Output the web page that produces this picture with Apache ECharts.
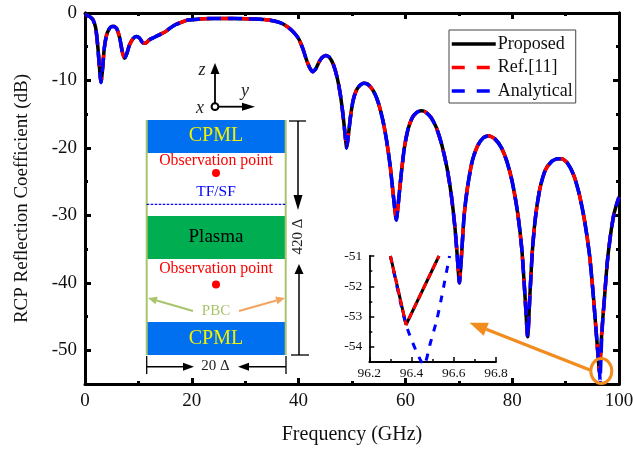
<!DOCTYPE html>
<html><head><meta charset="utf-8">
<style>html,body{margin:0;padding:0;background:#fff}#c{width:633px;height:451px}</style>
<script src="https://cdn.jsdelivr.net/npm/echarts@6/dist/echarts.min.js"></script>
</head><body><div id="c"></div>
<script>
const freq=[0,0.5,1,1.5,2,2.4,2.7,3,3.3,3.6,4,4.5,5,5.5,6,6.5,7,7.4,7.8,8.3,9,9.6,10.2,10.8,11.3,12,13,14,15,16,17,18,19,20,22,24,26,28,30,32,34,36,37,38,39,40,40.8,41.5,42,42.6,43.2,43.8,44.4,45.1,45.8,46.5,47.2,47.8,48.3,48.7,49,49.3,49.7,50.2,50.8,51.5,52.2,52.8,53.5,54.3,55,55.8,56.5,57.2,57.8,58.3,58.7,59.2,59.8,60.5,61.3,62.2,63,63.8,64.8,65.8,66.8,67.8,68.6,69.3,69.8,70.1,70.5,71,71.6,72.5,73.5,74.6,75.6,76.8,78,79,80,81,81.8,82.4,82.9,83.3,83.8,84.4,85.2,86.2,87.4,88.5,89.3,90.3,91.5,92.6,93.6,94.5,95.2,95.9,96.37,96.46,96.53,96.8,97.3,97.8,98.4,99,99.5,100];
const proposed=[-0.2,-0.4,-0.6,-1.0,-2.2,-5,-8,-10.3,-8.2,-5.3,-3.4,-2.4,-2.0,-2.0,-2.4,-3.7,-5.8,-6.7,-6.1,-4.8,-3.8,-3.5,-3.7,-4.4,-4.5,-4.0,-3.6,-3.2,-2.8,-2.2,-1.7,-1.4,-1.1,-1.0,-0.85,-0.8,-0.8,-0.8,-0.85,-0.9,-1.0,-1.3,-1.6,-2.1,-2.8,-3.8,-5.3,-7,-8,-8.7,-8.3,-7.3,-6.6,-6.3,-6.6,-7.6,-9.5,-12,-15,-18,-20,-18.3,-15.5,-13,-11.5,-10.7,-10.4,-10.5,-11,-12,-13.5,-16,-19,-23,-27.5,-30.7,-28,-24,-20,-17.2,-15.5,-14.7,-14.5,-14.7,-15.5,-17,-19.5,-23,-27,-32,-37,-40,-36,-30,-26,-22,-19.7,-18.5,-18.2,-18.7,-20,-22,-25,-29.5,-35,-42,-48,-42,-35,-30,-26,-23.3,-22,-21.6,-21.6,-22.2,-24,-27,-31,-36,-42,-49,-53.3,-52.2,-51,-47,-42,-37,-33,-30,-28.5,-27.3];
const reference=proposed.slice();
const analyticalDipStart=freq.indexOf(96.46);
const analyticalDip=[-54.6,-53.3,-47.5];
const analytical=proposed.slice(0,analyticalDipStart).concat(analyticalDip,proposed.slice(analyticalDipStart+3));
const xTicks=[0,20,40,60,80,100];
const yMajorTicks=[-50,-40,-30,-20,-10,0];
const insetFreq=[96.3,96.374,96.53];
const insetProposed=[-51,-53.27,-51];
const insetReference=[-51,-53.27,-51];
const insetAnalyticalFreq=[96.3,96.374,96.46,96.487,96.52,96.543,96.58];
const insetAnalytical=[-51,-53.27,-54.6,-53.93,-53.1,-52.34,-51];
const insetYTicks=[-54,-53,-52,-51];

const pair=(a,b)=>a.map((v,i)=>[v,b[i]]);
const FONT='Liberation Serif';
const BLUE='#0000FF',RED='#FF0000',OLIVE='#A9C46C',ORANGE='#F4A460',DARKOR='#F28C1E';
const LINE=[14,7],LINE2=[13,9],LW=3.5;
function line(x1,y1,x2,y2,color,w,dash){return {type:'line',z:50,shape:{x1,y1,x2,y2},style:{stroke:color,lineWidth:w,lineDash:dash||null}};}
function arrow(x1,y1,x2,y2,color,w,hl,hw){
  const d=Math.hypot(x2-x1,y2-y1),ux=(x2-x1)/d,uy=(y2-y1)/d,bx=x2-ux*hl,by=y2-uy*hl;
  return [line(x1,y1,bx,by,color,w),{type:'polygon',z:50,shape:{points:[[x2,y2],[bx-uy*hw,by+ux*hw],[bx+uy*hw,by-ux*hw]]},style:{fill:color}}];
}
function text(x,y,t,color,size,extra){return Object.assign({type:'text',z:51,x,y,style:{text:t,fill:color,font:(extra&&extra.italic?'italic ':'')+size+'px "'+FONT+'"',align:'center',verticalAlign:'middle'}},extra&&extra.rotation?{rotation:extra.rotation}:{});}
function rect(x,y,w,h,c){return {type:'rect',z:49,shape:{x,y,width:w,height:h},style:{fill:c}};}
const L=146.7,R=285.7,C=216;
const graphics=[
  rect(L,120,R-L,33,'#0070F0'),rect(L,322,R-L,33,'#0070F0'),rect(L,216,R-L,43,'#00AD50'),
  line(L,120,L,355,OLIVE,2),line(R,120,R,355,OLIVE,2),
  line(L,204.3,R,204.3,BLUE,1.2,[2.5,1.5]),
  text(C,136,'CPML','#F2F200',20),text(C,339,'CPML','#F2F200',20),
  text(C,161,'Observation point',RED,15.8),text(C,269,'Observation point',RED,15.8),
  {type:'circle',z:51,shape:{cx:C,cy:173,r:4},style:{fill:RED}},
  {type:'circle',z:51,shape:{cx:C,cy:284.5,r:4},style:{fill:RED}},
  text(C,191.5,'TF/SF',BLUE,15.5),text(C,237,'Plasma','#000',19),text(C,311,'PBC',OLIVE,15),
  ...arrow(193,311,148,298,OLIVE,2,9,4),...arrow(239,311,285,298,ORANGE,2,9,4),
  line(289,121,306,121,'#000',1.3),...arrow(298,121,298,210,'#000',1.5,15,4.5),
  line(291,355,309,355,'#000',1.3),...arrow(299,355,299,264,'#000',1.5,10,4.5),
  text(298.5,236.5,'420 Δ','#222',15,{rotation:Math.PI/2}),
  line(146.7,356,146.7,374,'#000',1.3),line(286,356,286,374,'#000',1.3),
  ...arrow(147,366.7,194,366.7,'#000',1.5,11,4),...arrow(286,366.7,238,366.7,'#000',1.5,11,4),
  text(215.5,366,'20 Δ','#222',15),
  ...arrow(215,104,215,63,'#000',1.8,11,4.5),...arrow(218,106.7,255,106.7,'#000',1.8,13,4),
  {type:'circle',z:52,shape:{cx:215,cy:106.7,r:3.4},style:{fill:'#fff',stroke:'#000',lineWidth:2}},
  text(202,70,'z','#222',18,{italic:true}),text(245,91,'y','#222',18,{italic:true}),text(200,108,'x','#222',18,{italic:true}),
  ...arrow(590,370,469.5,322.7,DARKOR,3.2,18,7),
  {type:'ellipse',z:52,shape:{cx:601.3,cy:371,rx:10.5,ry:12.5},style:{fill:'none',stroke:DARKOR,lineWidth:3}}
];
const lab={fontFamily:FONT,color:'#111'};
const ax={show:true,onZero:false,lineStyle:{color:'#000',width:3}};
const chart=echarts.init(document.getElementById('c'),null,{renderer:'canvas'});
chart.setOption({
  animation:false,backgroundColor:'#fff',
  textStyle:{fontFamily:FONT},
  grid:[{left:85,right:14,top:13,bottom:67,outerBoundsMode:'none'},{left:369.3,width:126.7,top:256,height:106,outerBoundsMode:'none'}],
  legend:{left:449,top:30,orient:'vertical',itemWidth:44,itemHeight:14,itemGap:5.5,padding:[5,3,3,1],
    borderColor:'#444',borderWidth:1,backgroundColor:'#fff',z:60,selectedMode:false,
    itemStyle:{opacity:0},
    textStyle:{fontFamily:FONT,fontSize:18,color:'#111',padding:[0,0,0,-3]},
    data:[{name:'Proposed',lineStyle:{width:LW}},{name:'Ref.[11]',lineStyle:{width:LW,type:[13,12]}},{name:'Analytical',lineStyle:{width:LW,type:[13,12]}}]},
  xAxis:[
    {type:'value',gridIndex:0,min:0,max:100,interval:20,position:'bottom',name:'Frequency (GHz)',nameLocation:'middle',nameGap:41,nameTextStyle:{fontFamily:FONT,fontSize:20,color:'#111'},
      axisLine:ax,axisTick:{show:true,inside:true,length:6,lineStyle:{width:3,color:'#000'}},minorTick:{show:true,splitNumber:2,length:3,lineStyle:{width:3,color:'#000'}},
      axisLabel:Object.assign({fontSize:19,margin:8,customValues:xTicks},lab),splitLine:{show:false}},
    {type:'value',gridIndex:0,min:0,max:100,interval:20,position:'top',axisLine:ax,axisTick:{show:true,inside:true,length:6,lineStyle:{width:3,color:'#000'}},minorTick:{show:true,splitNumber:2,length:3,lineStyle:{width:3,color:'#000'}},axisLabel:{show:false},splitLine:{show:false}},
    {type:'value',gridIndex:1,min:96.2,max:96.8,interval:0.2,position:'bottom',axisLine:{show:true,onZero:false,lineStyle:{color:'#000',width:1.8}},axisTick:{show:true,inside:true,length:5,lineStyle:{width:1.5,color:'#000'}},minorTick:{show:true,splitNumber:2,length:3,lineStyle:{width:1.5,color:'#000'}},
      axisLabel:Object.assign({fontSize:13.5,margin:4,formatter:v=>v.toFixed(1)},lab),splitLine:{show:false}}
  ],
  yAxis:[
    {type:'value',gridIndex:0,min:-55,max:0,position:'left',name:'RCP Reflection Coefficient (dB)',nameLocation:'middle',nameGap:53,nameRotate:90,nameTextStyle:{fontFamily:FONT,fontSize:19,color:'#111'},
      axisLine:ax,axisTick:{show:true,inside:true,length:6,customValues:yMajorTicks,lineStyle:{width:3,color:'#000'}},axisLabel:Object.assign({fontSize:19,margin:8,customValues:yMajorTicks},lab),splitLine:{show:false}},
    {type:'value',gridIndex:0,min:-55,max:0,interval:5,position:'left',axisLine:ax,axisTick:{show:true,inside:true,length:3,lineStyle:{width:3,color:'#000'}},axisLabel:{show:false},splitLine:{show:false}},
    {type:'value',gridIndex:0,min:-55,max:0,position:'right',axisLine:ax,axisTick:{show:true,inside:true,length:6,customValues:yMajorTicks,lineStyle:{width:3,color:'#000'}},axisLabel:{show:false},splitLine:{show:false}},
    {type:'value',gridIndex:0,min:-55,max:0,interval:5,position:'right',axisLine:ax,axisTick:{show:true,inside:true,length:3,lineStyle:{width:3,color:'#000'}},axisLabel:{show:false},splitLine:{show:false}},
    {type:'value',gridIndex:1,min:-54.5,max:-51,position:'left',axisLine:{show:true,onZero:false,lineStyle:{color:'#000',width:1.8}},axisTick:{show:true,inside:true,length:5,customValues:insetYTicks,lineStyle:{width:1.5,color:'#000'}},axisLabel:Object.assign({fontSize:13.5,margin:7,customValues:insetYTicks},lab),splitLine:{show:false}},
    {type:'value',gridIndex:1,min:-54.5,max:-51,interval:0.5,position:'left',axisLine:{show:false},axisTick:{show:true,inside:true,length:3,lineStyle:{width:1.5,color:'#000'}},axisLabel:{show:false},splitLine:{show:false}}
  ],
  series:[
    {name:'Proposed',type:'line',xAxisIndex:0,yAxisIndex:0,data:pair(freq,proposed),showSymbol:false,symbol:'none',smooth:0.2,lineStyle:{color:'#000',width:LW,join:'round'},itemStyle:{color:'#000'},z:3},
    {name:'Ref.[11]',type:'line',xAxisIndex:0,yAxisIndex:0,data:pair(freq,reference),showSymbol:false,symbol:'none',smooth:0.2,lineStyle:{color:RED,width:LW,type:LINE2,join:'round'},itemStyle:{color:RED},z:4},
    {name:'Analytical',type:'line',xAxisIndex:0,yAxisIndex:0,data:pair(freq,analytical),showSymbol:false,symbol:'none',smooth:0.2,lineStyle:{color:BLUE,width:LW,type:LINE,join:'round'},itemStyle:{color:BLUE},z:5},
    {name:'Proposed',type:'line',xAxisIndex:2,yAxisIndex:4,data:pair(insetFreq,insetProposed),showSymbol:false,symbol:'none',lineStyle:{color:'#000',width:3},itemStyle:{color:'#000'},z:3},
    {name:'Analytical',type:'line',xAxisIndex:2,yAxisIndex:4,data:pair(insetAnalyticalFreq,insetAnalytical),showSymbol:false,symbol:'none',smooth:0.2,lineStyle:{color:BLUE,width:3,type:[7,8]},itemStyle:{color:BLUE},z:4},
    {name:'Ref.[11]',type:'line',xAxisIndex:2,yAxisIndex:4,data:pair(insetFreq,insetReference),showSymbol:false,symbol:'none',lineStyle:{color:RED,width:3,type:[7,4]},itemStyle:{color:RED},z:5}
  ],
  graphic:graphics
});
</script></body></html>
